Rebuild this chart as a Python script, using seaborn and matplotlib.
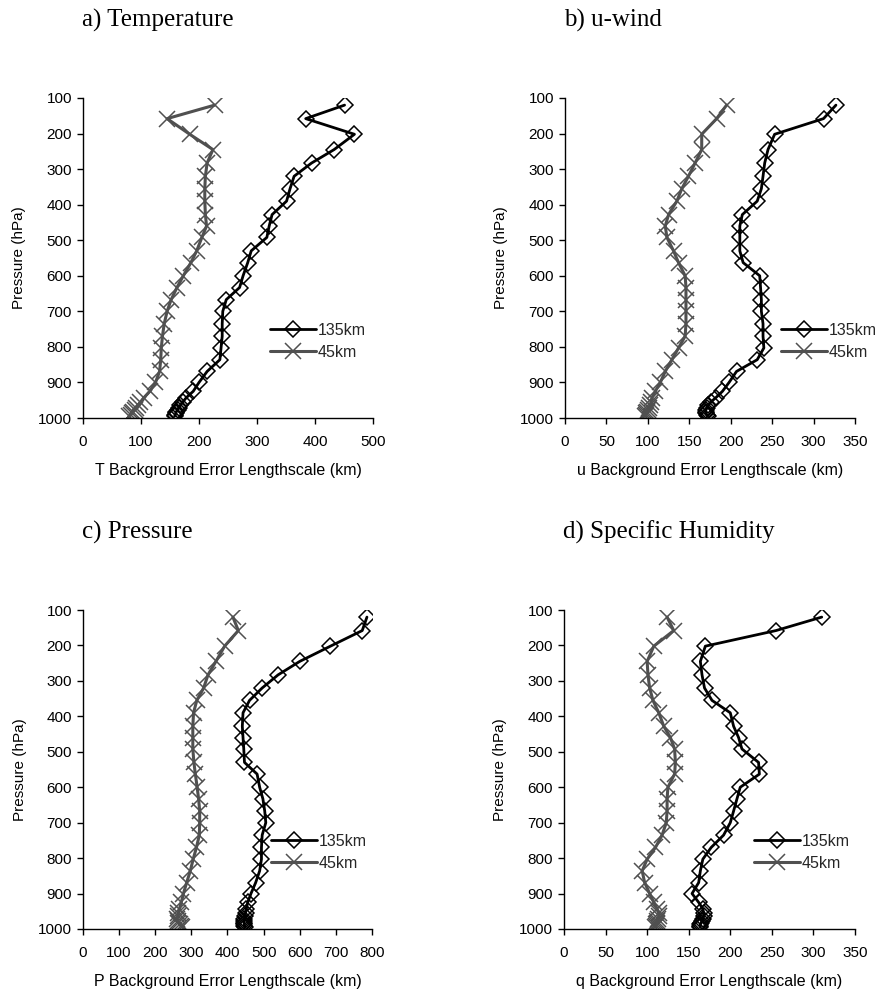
import numpy as np
import pandas as pd
import matplotlib
matplotlib.use("Agg")
import matplotlib.pyplot as plt
import seaborn as sns

# ======================================================
#   theme
# ======================================================
sns.set_theme(style="ticks")
plt.rcParams["font.family"] = ["Liberation Sans", "DejaVu Sans"]

# ======================================================
#   data, pressure levels in hPa
# ======================================================
LEVELS = [120, 158, 202, 245, 283, 320, 355, 390, 428, 460, 492, 530, 563,
          600, 633, 667, 700, 735, 770, 803, 836, 869, 900, 925, 943, 955,
          964, 971, 977, 982, 987, 991, 995]

# a) Temperature
T_135 = [451, 384, 468, 433, 394, 364, 357, 351, 326, 321, 317, 290, 284,
         276, 270, 247, 241, 240, 240, 238, 236, 214, 200, 190, 178, 172,
         168, 165, 163, 161, 160, 159, 158]
T_45 = [227, 145, 184, 224, 214, 211, 210, 210, 211, 213, 205, 196, 186,
        173, 162, 152, 145, 140, 137, 135, 134, 132, 125, 115, 105, 99,
        95, 92, 89, 86, 84, 82, 80]

# b) u-wind
U_135 = [327, 312, 253, 245, 241, 239, 237, 232, 214, 211, 211, 211, 215,
         235, 236, 237, 237, 239, 239, 240, 232, 207, 198, 190, 182, 176,
         173, 171, 170, 170, 170, 171, 172]
U_45 = [195, 183, 165, 165, 157, 149, 141, 135, 125, 121, 123, 131, 137,
        145, 146, 146, 146, 146, 145, 137, 129, 121, 115, 109, 105, 104,
        103, 101, 100, 99, 98, 98, 97]

# c) Pressure
P_135 = [786, 773, 685, 600, 540, 496, 461, 443, 441, 443, 445, 447, 482,
         489, 498, 503, 506, 496, 494, 494, 489, 478, 465, 456, 452, 450,
         448, 447, 446, 446, 446, 447, 448]
P_45 = [415, 430, 392, 368, 346, 334, 315, 306, 304, 304, 304, 307, 311,
        316, 320, 323, 323, 322, 314, 305, 297, 287, 278, 272, 267, 264,
        262, 261, 262, 264, 268, 271, 275]

# d) Specific Humidity
Q_135 = [310, 255, 170, 164, 166, 169, 178, 200, 204, 210, 214, 234, 235,
         212, 208, 204, 200, 192, 177, 167, 164, 162, 154, 162, 167, 168,
         168, 167, 166, 165, 164, 164, 164]
Q_45 = [124, 132, 108, 100, 101, 103, 107, 114, 120, 128, 133, 134, 133,
        125, 124, 124, 123, 118, 110, 100, 94, 97, 103, 108, 112, 114,
        114, 113, 112, 112, 111, 111, 110]

TITLES = ["a) Temperature", "b) u-wind", "c) Pressure", "d) Specific Humidity"]
XLABELS = ["T Background Error Lengthscale (km)",
           "u Background Error Lengthscale (km)",
           "P Background Error Lengthscale (km)",
           "q Background Error Lengthscale (km)"]
XMAX = [500, 350, 800, 350]
XSTEP = [100, 50, 100, 50]
SERIES = [(T_135, T_45), (U_135, U_45), (P_135, P_45), (Q_135, Q_45)]

# ======================================================
#   layout (pixels of an 878 x 993 figure)
# ======================================================
W, H = 878, 993
# left, top, right, bottom of each plot area
BOXES = [(83, 98, 373, 418), (565, 98, 855, 418),
         (83, 610, 372, 929), (564, 610, 855, 929)]
LEGEND_X = [0.645, 0.745, 0.65, 0.652]

fig = plt.figure(figsize=(W / 100, H / 100), dpi=100)

for i in range(4):
    l, t, r, b = BOXES[i]
    ax = fig.add_axes([l / W, 1 - b / H, (r - l) / W, (b - t) / H])
    s135, s45 = SERIES[i]
    df = pd.DataFrame({
        "pressure": LEVELS * 2,
        "length": list(s135) + list(s45),
        "run": ["135km"] * len(LEVELS) + ["45km"] * len(LEVELS),
    })

    sns.lineplot(data=df[df.run == "135km"], x="length", y="pressure",
                 orient="y", sort=False, ax=ax, color="black", lw=2.0,
                 marker="D", markersize=8, markerfacecolor="none",
                 markeredgecolor="black", markeredgewidth=1.1,
                 label="135km")
    sns.lineplot(data=df[df.run == "45km"], x="length", y="pressure",
                 orient="y", sort=False, ax=ax, color="#505050", lw=2.2,
                 marker="x", markersize=12, markeredgecolor="#505050",
                 markeredgewidth=1.1, label="45km")

    ax.set_xlim(0, XMAX[i])
    ax.set_ylim(1000, 100)
    ax.set_xticks(np.arange(0, XMAX[i] + 1, XSTEP[i]))
    ax.set_yticks(np.arange(100, 1001, 100))
    ax.tick_params(axis="both", direction="out", length=4, width=1,
                   colors="black", labelsize=11)
    ax.tick_params(axis="x", pad=8)
    ax.tick_params(axis="y", pad=4)
    sns.despine(ax=ax)
    for sp in ["left", "bottom"]:
        ax.spines[sp].set_color("black")
        ax.spines[sp].set_linewidth(1.0)

    ax.set_xlabel(XLABELS[i], fontsize=11.5, color="black")
    ax.set_ylabel("Pressure (hPa)", fontsize=11, color="black")
    ax.xaxis.set_label_coords(0.5, -0.14)
    ax.yaxis.set_label_coords(-0.195, 0.5)

    ax.legend(loc="center left", bbox_to_anchor=(LEGEND_X[i], 0.24),
              frameon=False, fontsize=11.5, handlelength=2.9,
              handletextpad=0.1, labelspacing=0.45, borderpad=0,
              borderaxespad=0)

    fig.text((l - 1) / W, 1 - (t - 71) / H, TITLES[i], va="baseline",
             ha="left", fontsize=18, family=["Liberation Serif"],
             color="black")

fig.savefig("out.png", dpi=100, facecolor="white")
